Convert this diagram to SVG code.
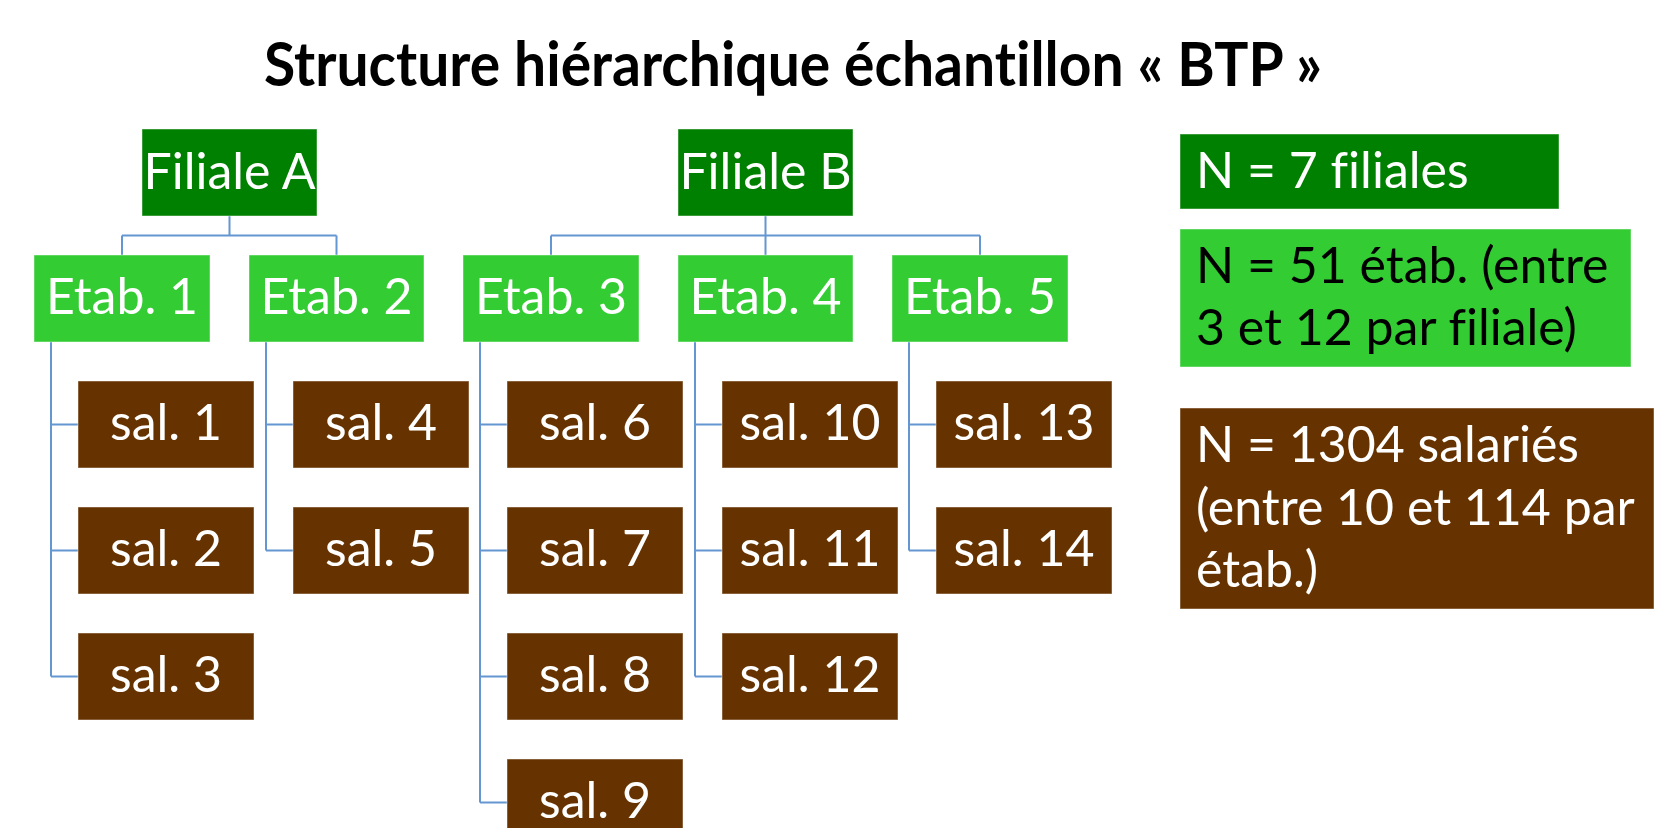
<svg xmlns="http://www.w3.org/2000/svg" width="1654" height="828" viewBox="0 0 1654 828">
<style>
text{font-family:Lato,"Liberation Sans",sans-serif;font-variant-ligatures:none}
.t{font-size:62px;font-weight:bold;fill:#000}
.box{stroke:#ffffff;stroke-opacity:0.45;stroke-width:1}
.fil{fill:#008000}
.eta{fill:#33CC33}
.sal{fill:#663300}
.lb{font-size:50px;fill:#fff;text-anchor:middle}
.lg{font-size:50px;fill:#fff}
.lk{font-size:50px;fill:#000}
.c{fill:none;stroke:#6496D2;stroke-width:2}
</style>
<rect width="1654" height="828" fill="#fff"/>
<text class="t" x="264" y="86" textLength="1058" lengthAdjust="spacingAndGlyphs">Structure hiérarchique échantillon « BTP »</text>
<g id="connectors">
<path class="c" d="M229.5 216V235.5M122 235.5H336.5M122 235.5V255M336.5 235.5V255"/>
<path class="c" d="M765.5 216V235.5M551 235.5H980M551 235.5V255M765.5 235.5V255M980 235.5V255"/>
<path class="c" d="M51 342V676.5M51 424.5H78M51 550.5H78M51 676.5H78"/>
<path class="c" d="M266 342V550.5M266 424.5H293M266 550.5H293"/>
<path class="c" d="M480 342V802.5M480 424.5H507M480 550.5H507M480 676.5H507M480 802.5H507"/>
<path class="c" d="M695 342V676.5M695 424.5H722M695 550.5H722M695 676.5H722"/>
<path class="c" d="M909 342V550.5M909 424.5H936M909 550.5H936"/>
</g>
<g id="filiale-a"><rect class="box fil" x="142" y="129" width="175" height="87"/><text class="lb" x="229.5" y="189">Filiale A</text></g>
<g id="filiale-b"><rect class="box fil" x="678" y="129" width="175" height="87"/><text class="lb" x="765.5" y="189">Filiale B</text></g>
<g id="etab-1"><rect class="box eta" x="34" y="255" width="176" height="87"/><text class="lb" x="122" y="314">Etab. 1</text></g>
<g id="etab-2"><rect class="box eta" x="249" y="255" width="175" height="87"/><text class="lb" x="336.5" y="314">Etab. 2</text></g>
<g id="etab-3"><rect class="box eta" x="463" y="255" width="176" height="87"/><text class="lb" x="551" y="314">Etab. 3</text></g>
<g id="etab-4"><rect class="box eta" x="678" y="255" width="175" height="87"/><text class="lb" x="765.5" y="314">Etab. 4</text></g>
<g id="etab-5"><rect class="box eta" x="892" y="255" width="176" height="87"/><text class="lb" x="980" y="314">Etab. 5</text></g>
<g id="sal-1"><rect class="box sal" x="78" y="381" width="176" height="87"/><text class="lb" x="166" y="440">sal. 1</text></g>
<g id="sal-2"><rect class="box sal" x="78" y="507" width="176" height="87"/><text class="lb" x="166" y="566">sal. 2</text></g>
<g id="sal-3"><rect class="box sal" x="78" y="633" width="176" height="87"/><text class="lb" x="166" y="692">sal. 3</text></g>
<g id="sal-4"><rect class="box sal" x="293" y="381" width="176" height="87"/><text class="lb" x="381" y="440">sal. 4</text></g>
<g id="sal-5"><rect class="box sal" x="293" y="507" width="176" height="87"/><text class="lb" x="381" y="566">sal. 5</text></g>
<g id="sal-6"><rect class="box sal" x="507" y="381" width="176" height="87"/><text class="lb" x="595" y="440">sal. 6</text></g>
<g id="sal-7"><rect class="box sal" x="507" y="507" width="176" height="87"/><text class="lb" x="595" y="566">sal. 7</text></g>
<g id="sal-8"><rect class="box sal" x="507" y="633" width="176" height="87"/><text class="lb" x="595" y="692">sal. 8</text></g>
<g id="sal-9"><rect class="box sal" x="507" y="759" width="176" height="87"/><text class="lb" x="595" y="818">sal. 9</text></g>
<g id="sal-10"><rect class="box sal" x="722" y="381" width="176" height="87"/><text class="lb" x="810" y="440">sal. 10</text></g>
<g id="sal-11"><rect class="box sal" x="722" y="507" width="176" height="87"/><text class="lb" x="810" y="566">sal. 11</text></g>
<g id="sal-12"><rect class="box sal" x="722" y="633" width="176" height="87"/><text class="lb" x="810" y="692">sal. 12</text></g>
<g id="sal-13"><rect class="box sal" x="936" y="381" width="176" height="87"/><text class="lb" x="1024" y="440">sal. 13</text></g>
<g id="sal-14"><rect class="box sal" x="936" y="507" width="176" height="87"/><text class="lb" x="1024" y="566">sal. 14</text></g>
<g id="legend-filiales"><rect class="box fil" x="1180" y="134" width="379" height="75"/><text class="lg" x="1196" y="188">N = 7 filiales</text></g>
<g id="legend-etab"><rect class="box eta" x="1180" y="229" width="451" height="138"/><text class="lk" x="1196" y="283">N = 51 étab. (entre</text><text class="lk" x="1196" y="345">3 et 12 par filiale)</text></g>
<g id="legend-salaries"><rect class="box sal" x="1180" y="408" width="474" height="201"/><text class="lg" x="1196" y="462">N = 1304 salariés</text><text class="lg" x="1196" y="525">(entre 10 et 114 par</text><text class="lg" x="1196" y="587">étab.)</text></g>
</svg>
